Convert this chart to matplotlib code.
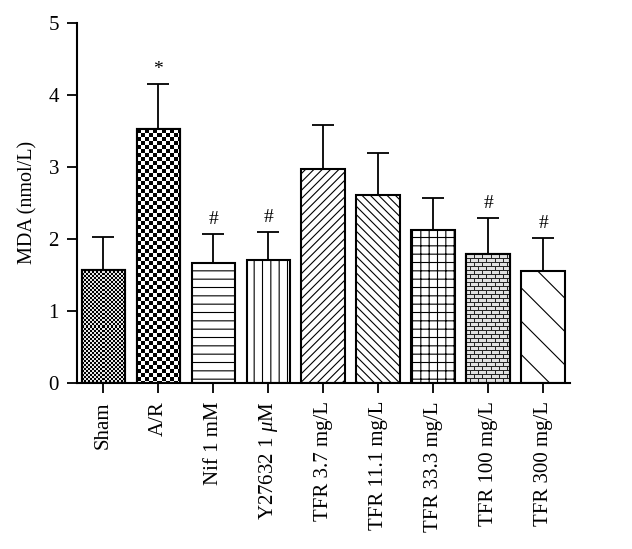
import numpy as np
import matplotlib
matplotlib.use('Agg')
import matplotlib.pyplot as plt

plt.rcParams['font.family'] = ['Liberation Serif', 'DejaVu Serif']
plt.rcParams['mathtext.fontset'] = 'custom'
plt.rcParams['mathtext.rm'] = 'Liberation Serif'
plt.rcParams['mathtext.it'] = 'Liberation Serif:italic'
plt.rcParams['hatch.linewidth'] = 0.8

# datos
groups = ['Sham', 'A/R', 'Nif 1 mM', r'Y27632 1 $\mu$M', 'TFR 3.7 mg/L', 'TFR 11.1 mg/L',
          'TFR 33.3 mg/L', 'TFR 100 mg/L', 'TFR 300 mg/L']
mda = [1.57, 3.52, 1.67, 1.70, 2.97, 2.61, 2.12, 1.79, 1.55]
sd = [0.46, 0.63, 0.40, 0.40, 0.61, 0.58, 0.45, 0.50, 0.46]
marks = ['', '*', '#', '#', '', '', '', '#', '#']

# patrones de relleno
hatches = ['', '', '--', '||', '////', '\\\\\\\\', '++', '', '\\']
images = {0: 'fine', 1: 'check', 7: 'brick'}


def pattern(kind, h, w):
    yy, xx = np.mgrid[0:h, 0:w]
    if kind == 'fine':
        return ((xx // 2 + yy // 2) % 2) * 0.9
    if kind == 'check':
        return ((xx // 4 + yy // 4) % 2) * 1.0
    row = yy // 4
    mortar = (yy % 4 == 0) | (((xx + 4 * (row % 2)) % 8) == 0)
    return np.where(mortar, 0.15, 0.88)


fig = plt.figure(figsize=(6.32, 5.49), dpi=100)
ax = fig.add_axes([77 / 632, 1 - 383 / 549, (570 - 77) / 632, (383 - 22.7) / 549])
ax.set_xlim(-0.479, 8.49)
ax.set_ylim(0, 5)

x = np.arange(len(groups))
bars = ax.bar(x, mda, width=0.79, facecolor='white', edgecolor='black',
              linewidth=1.5, zorder=2)
for b, h in zip(bars, hatches):
    b.set_hatch(h)

# rellenos tipo tablero / ladrillo
for i, kind in images.items():
    b = bars[i]
    x0, x1 = b.get_x(), b.get_x() + b.get_width()
    p0 = ax.transData.transform((x0, 0))
    p1 = ax.transData.transform((x1, mda[i]))
    w_px = int(round(p1[0] - p0[0]))
    h_px = int(round(p1[1] - p0[1]))
    arr = pattern(kind, h_px, w_px)
    im = ax.imshow(arr, extent=(x0, x1, 0, mda[i]), origin='upper', cmap='gray',
                   vmin=0, vmax=1, interpolation='nearest', aspect='auto', zorder=2.2)
    im.set_clip_path(b)
    ax.bar(x[i], mda[i], width=0.79, fill=False, edgecolor='black', linewidth=1.5, zorder=2.4)

ax.errorbar(x, mda, yerr=[np.zeros(len(sd)), sd], fmt='none', ecolor='black',
            elinewidth=1.3, capsize=8, capthick=1.3, zorder=1)

for xi, m, s, t in zip(x, mda, sd, marks):
    if t:
        ax.text(xi, m + s + 0.08, t, ha='center', va='bottom', fontsize=14)

ax.set_xlim(-0.479, 8.49)
ax.set_ylim(0, 5)
ax.set_yticks(range(6))
ax.set_xticks(x)
ax.set_xticklabels(groups, rotation=90, fontsize=15)
ax.tick_params(axis='y', labelsize=15, length=7, width=1.3, direction='out', pad=6)
ax.tick_params(axis='x', length=7, width=1.3, direction='out', pad=6)
ax.set_ylabel('MDA (nmol/L)', fontsize=14.5, labelpad=8)

for s in ['top', 'right']:
    ax.spines[s].set_visible(False)
for s in ['left', 'bottom']:
    ax.spines[s].set_linewidth(1.5)

plt.savefig('out.png', dpi=100)
